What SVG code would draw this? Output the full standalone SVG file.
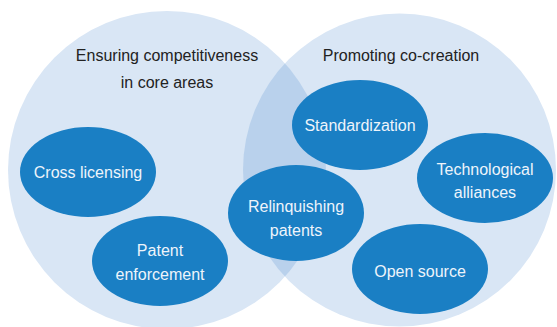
<svg xmlns="http://www.w3.org/2000/svg" width="557" height="327" viewBox="0 0 557 327">
<style>
.big{fill:#d9e6f5}
.lens{fill:#b9d1ec}
.node ellipse{fill:#1a7fc4}
.node text{fill:#eef4fb;font-family:"Liberation Sans",Arial,sans-serif;font-size:16px;text-anchor:middle}
.head{fill:#222;font-family:"Liberation Sans",Arial,sans-serif;font-size:16px;text-anchor:middle}
</style>
<rect width="557" height="327" fill="#fff"/>
<g id="circles">
<circle class="big" cx="167" cy="170" r="159"/>
<circle class="big" cx="399.5" cy="170" r="156.5"/>
<clipPath id="cl"><circle cx="167" cy="170" r="159"/></clipPath>
<circle class="lens" cx="399.5" cy="170" r="156.5" clip-path="url(#cl)"/>
</g>
<g id="headings">
<text class="head" x="167" y="61">Ensuring competitiveness</text>
<text class="head" x="167" y="88">in core areas</text>
<text class="head" x="401" y="61">Promoting co-creation</text>
</g>
<g id="connectors"></g>
<g id="cross" class="node"><ellipse cx="88" cy="172" rx="68" ry="45"/><text x="88" y="178">Cross licensing</text></g>
<g id="patent" class="node"><ellipse cx="160" cy="261" rx="68" ry="45"/><text x="160" y="256">Patent</text><text x="160" y="280">enforcement</text></g>
<g id="relinq" class="node"><ellipse cx="296" cy="213" rx="68" ry="48"/><text x="296" y="212">Relinquishing</text><text x="296" y="236">patents</text></g>
<g id="std" class="node"><ellipse cx="360" cy="125" rx="68" ry="45"/><text x="360" y="131">Standardization</text></g>
<g id="tech" class="node"><ellipse cx="485" cy="178" rx="68" ry="45"/><text x="485" y="175">Technological</text><text x="485" y="198">alliances</text></g>
<g id="open" class="node"><ellipse cx="420" cy="269" rx="68" ry="45"/><text x="420" y="277">Open source</text></g>
</svg>
